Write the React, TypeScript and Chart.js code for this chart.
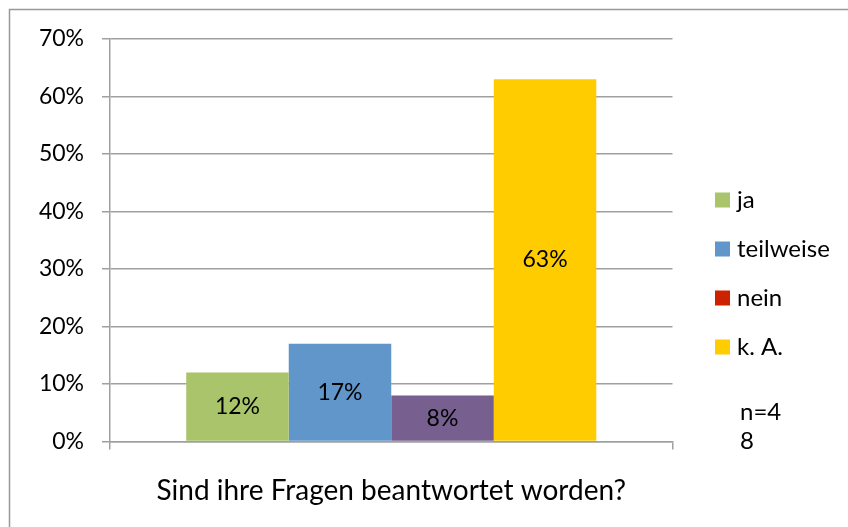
import React, { useEffect, useRef } from "react";
import { Chart, registerables } from "chart.js";

Chart.register(...registerables);

const categories = ["Sind ihre Fragen beantwortet worden?"];
const seriesNames = ["ja", "teilweise", "nein", "k. A."];
const seriesValues = [12, 17, 8, 63];
const barColors = ["#A9C46B", "#6096CA", "#775F8F", "#FFCC00"];
const legendColors = ["#A9C46B", "#6096CA", "#CC2200", "#FFCC00"];
const yTicks = [0, 10, 20, 30, 40, 50, 60, 70];
const noteLines = ["n=4", "8"];

const FONT = "Lato";

export default function App() {
  const ref = useRef<HTMLCanvasElement | null>(null);

  useEffect(() => {
    document.body.style.margin = "0";
    const canvas = ref.current;
    if (!canvas) return;

    const frame = {
      id: "frame",
      beforeDraw(chart: any) {
        const ctx = chart.ctx;
        ctx.save();
        ctx.fillStyle = "#ffffff";
        ctx.fillRect(0, 0, chart.width, chart.height);
        ctx.strokeStyle = "#999999";
        ctx.lineWidth = 1.5;
        ctx.strokeRect(9.5, 9.5, chart.width + 20, chart.height + 20);
        ctx.restore();
      },
    };

    const customLegend = {
      id: "customLegend",
      afterDraw(chart: any) {
        const ctx = chart.ctx;
        ctx.save();
        ctx.font = `24px ${FONT}`;
        ctx.textBaseline = "middle";
        ctx.textAlign = "left";
        const x0 = 715;
        const y0 = 200;
        const step = 49;
        seriesNames.forEach((name, i) => {
          const y = y0 + i * step;
          ctx.fillStyle = legendColors[i];
          ctx.fillRect(x0, y - 7.5, 15, 15);
          ctx.fillStyle = "#000000";
          ctx.fillText(name, x0 + 22, y);
        });
        noteLines.forEach((line, i) => {
          ctx.fillText(line, 740, 412 + i * 29);
        });
        ctx.restore();
      },
    };

    const barLabels = {
      id: "barLabels",
      afterDatasetsDraw(chart: any) {
        const ctx = chart.ctx;
        ctx.save();
        ctx.font = `23px ${FONT}`;
        ctx.textAlign = "center";
        ctx.textBaseline = "middle";
        ctx.fillStyle = "#000000";
        chart.data.datasets.forEach((ds: any, i: number) => {
          const meta = chart.getDatasetMeta(i);
          meta.data.forEach((bar: any, j: number) => {
            const v = ds.data[j];
            const yc = (bar.y + bar.base) / 2;
            ctx.fillText(v + "%", bar.x, yc);
          });
        });
        ctx.restore();
      },
    };

    const chart = new Chart(canvas, {
      type: "bar",
      data: {
        labels: categories,
        datasets: seriesNames.map((name, i) => ({
          label: name,
          data: [seriesValues[i]],
          backgroundColor: barColors[i],
          borderWidth: 0,
          barPercentage: 1,
          categoryPercentage: 0.729,
        })),
      },
      options: {
        responsive: false,
        animation: false,
        layout: { padding: { top: 39, right: 175.5, left: 0, bottom: 0 } },
        plugins: {
          legend: { display: false },
          tooltip: { enabled: false },
        },
        scales: {
          x: {
            offset: true,
            grid: {
              display: true,
              offset: true,
              drawOnChartArea: false,
              tickLength: 8,
              color: "#A0A0A0",
              lineWidth: 1.5,
            },
            border: { display: true, color: "#A0A0A0", width: 1.5 },
            ticks: {
              color: "#000000",
              font: { family: FONT, size: 28 },
              padding: 25,
            },
            afterFit(scale: any) {
              scale.height = 85.5;
            },
          },
          y: {
            min: 0,
            max: 70,
            afterBuildTicks(scale: any) {
              scale.ticks = yTicks.map((v) => ({ value: v }));
            },
            grid: {
              color: "#A0A0A0",
              lineWidth: 1.5,
              tickLength: 8,
            },
            border: { display: true, color: "#A0A0A0", width: 1.5 },
            ticks: {
              color: "#000000",
              font: { family: FONT, size: 23 },
              padding: 18,
              callback: (v: any) => v + "%",
            },
            afterFit(scale: any) {
              scale.width = 110;
            },
          },
        },
      },
      plugins: [frame, barLabels, customLegend],
    });

    return () => chart.destroy();
  }, []);

  return (
    <div style={{ width: 848, height: 527 }}>
      <canvas ref={ref} width={848} height={527} style={{ display: "block" }} />
    </div>
  );
}
